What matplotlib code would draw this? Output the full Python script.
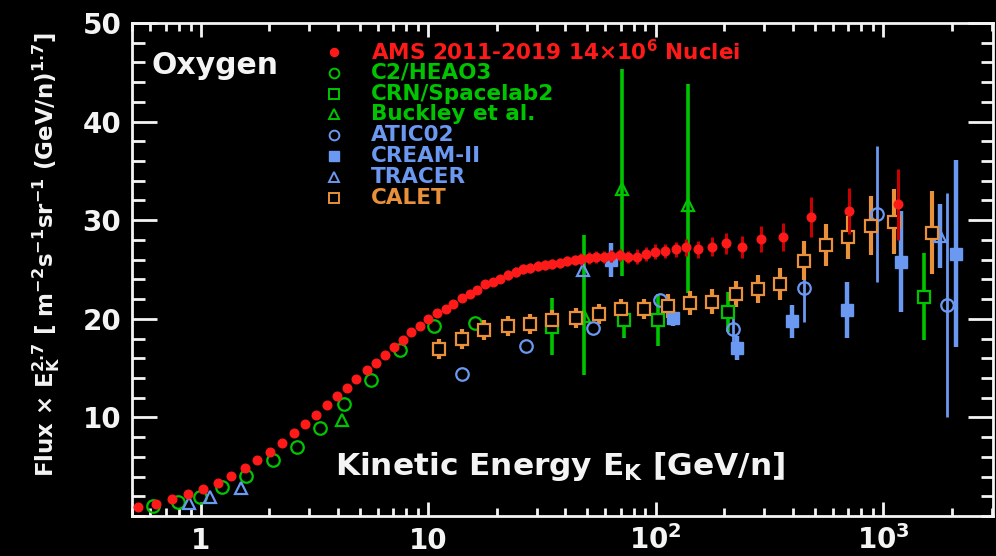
"""
Oxygen flux x E^2.7 vs kinetic energy per nucleon: AMS compared with
earlier balloon / satellite measurements.
"""

import matplotlib.pyplot as plt
from matplotlib.ticker import FixedLocator, FixedFormatter, LogLocator, MultipleLocator, NullFormatter

# ---- data (E_K in GeV/n, flux x E^2.7) ----
ams_e = [0.53, 0.636, 0.747, 0.879, 1.02, 1.19, 1.36, 1.56, 1.77, 2.01,
         2.28, 2.56, 2.87, 3.21, 3.58, 3.96, 4.41, 4.83, 5.37, 5.88,
         6.47, 7.03, 7.71, 8.42, 9.19, 10.0, 10.9, 11.9, 12.9, 14.0,
         15.2, 16.4, 17.8, 19.2, 20.7, 22.4, 24.2, 26.0, 28.1, 30.3,
         32.7, 35.1, 37.8, 40.7, 44.0, 47.1, 50.8, 54.8, 59.0, 63.8,
         69.4, 75.5, 82.7, 90.4, 99.0, 109.5, 122.5, 136.0, 153.6, 176.0,
         202.8, 238.5, 289.2, 361.5, 480.3, 710.5, 1161.0]
ams_flux = [0.94, 1.21, 1.72, 2.19, 2.73, 3.30, 4.01, 4.82, 5.69, 6.49,
            7.40, 8.38, 9.32, 10.27, 11.21, 12.15, 13.03, 13.91, 14.78, 15.53,
            16.29, 17.14, 17.88, 18.69, 19.22, 19.97, 20.58, 21.04, 21.52, 22.09,
            22.53, 22.93, 23.51, 23.74, 24.01, 24.44, 24.78, 25.02, 25.12, 25.35,
            25.45, 25.53, 25.69, 25.89, 25.96, 26.03, 26.13, 26.23, 26.29, 26.36,
            26.46, 26.29, 26.29, 26.57, 26.80, 26.87, 27.04, 27.24, 27.04, 27.30,
            27.65, 27.30, 28.11, 28.31, 30.33, 30.94, 31.62]
ams_err = [0.15] * 25 + [0.3] * 10 + [0.5] * 10 + [0.6] * 7 + [0.75] * 5 + \
          [0.9, 0.9, 0.95, 1.1, 1.1, 1.3, 1.4, 2.0, 2.35, 3.6]

c2_e = [0.615, 0.794, 0.99, 1.24, 1.58, 2.08, 2.64, 3.33, 4.24, 5.58,
        7.50, 10.55, 16.06]
c2_flux = [1.04, 1.38, 1.89, 2.90, 4.01, 5.69, 6.97, 8.89, 11.38, 13.84,
           16.87, 19.29, 19.57]

crn_e = [35.1, 72.3, 102.4, 208.2, 1516.0]
crn_flux = [19.2, 19.9, 19.9, 20.7, 22.25]
crn_err = [2.9, 1.8, 2.65, 2.0, 4.45]

buckley_e = [4.19, 48.2, 71.4, 138.8]
buckley_flux = [9.73, 20.3, 33.2, 31.5]
buckley_err_lo = [0.0, 6.0, 8.9, 8.9]
buckley_err_hi = [0.0, 8.2, 12.1, 12.3]

atic_e = [14.1, 26.9, 52.9, 104.0, 219.0, 448.7, 944.0, 1909.0]
atic_flux = [14.44, 17.27, 19.06, 21.9, 18.96, 23.16, 30.6, 21.4]
atic_err = [0.0, 0.0, 0.0, 0.0, 2.0, 3.5, 6.9, 11.4]

cream_e = [63.8, 119.2, 226.7, 398.6, 696.0, 1200.0, 2097.0]
cream_flux = [25.96, 20.07, 17.04, 19.73, 20.9, 25.8, 26.6]
cream_err = [1.7, 0.8, 1.2, 1.7, 2.8, 5.1, 9.5]

tracer_e = [0.885, 1.095, 1.496, 47.8, 1783.0]
tracer_flux = [1.31, 1.89, 2.80, 24.95, 28.4]
tracer_err = [0.0, 0.0, 0.0, 0.0, 3.2]

calet_e = [11.18, 14.02, 17.52, 22.36, 28.05, 34.93, 44.43, 56.09, 70.6, 88.5,
           113.3, 141.2, 176.0, 225.1, 280.5, 351.8, 448.7, 560.9, 703.3, 885.1,
           1118.0, 1639.0]
calet_flux = [16.94, 17.95, 18.89, 19.29, 19.49, 19.90, 20.07, 20.51, 20.98, 20.98,
              21.31, 21.59, 21.75, 22.53, 23.00, 23.54, 25.89, 27.47, 28.25, 29.42,
              29.83, 28.72]
calet_err = [1.0] * 10 + [1.2, 1.2, 1.3, 1.3, 1.4, 1.6, 2.0, 2.1, 2.2, 3.0, 3.3, 4.2]

legend_labels = ["AMS 2011-2019 14$\\times$10$^6$ Nuclei", "C2/HEAO3", "CRN/Spacelab2",
                 "Buckley et al.", "ATIC02", "CREAM-II", "TRACER", "CALET"]

RED = "#ff1a1a"
DARK_RED = "#c80000"
GREEN = "#00c400"
BLUE = "#6b98f0"
ORANGE = "#e8913a"
WHITE = "#f4f4f4"

plt.rcParams["font.family"] = "DejaVu Sans"
plt.rcParams["font.weight"] = "bold"
plt.rcParams["mathtext.fontset"] = "custom"
plt.rcParams["mathtext.rm"] = "DejaVu Sans:bold"
plt.rcParams["mathtext.it"] = "DejaVu Sans:bold"
plt.rcParams["mathtext.bf"] = "DejaVu Sans:bold"
plt.rcParams["mathtext.default"] = "rm"


def plot_oxygen():
    fig = plt.figure(figsize=(9.96, 5.56), dpi=100, facecolor="black")
    ax = fig.add_axes([0.133, 0.072, 0.8643, 0.8866])
    ax.set_facecolor("black")
    ax.set_xscale("log")
    ax.set_xlim(0.5, 3050)
    ax.set_ylim(0, 50)

    eb = dict(ls="none", capsize=0, elinewidth=2.6)

    # other experiments
    ax.plot(c2_e, c2_flux, ls="none", marker="o", ms=9, mfc="none", mec=GREEN, mew=1.6)
    ax.errorbar(crn_e, crn_flux, yerr=crn_err, marker="s", ms=9, mfc="black",
                mec=GREEN, mew=1.6, ecolor=GREEN, **eb)
    ax.errorbar(buckley_e, buckley_flux, yerr=[buckley_err_lo, buckley_err_hi],
                marker="^", ms=9, mfc="none", mec=GREEN, mew=1.6, ecolor=GREEN, **eb)
    ax.errorbar(atic_e, atic_flux, yerr=atic_err, marker="o", ms=9, mfc="none",
                mec=BLUE, mew=1.6, ecolor=BLUE, ls="none", capsize=0, elinewidth=2.0)
    ax.errorbar(cream_e, cream_flux, yerr=cream_err, marker="s", ms=8, mfc=BLUE,
                mec=BLUE, ecolor=BLUE, ls="none", capsize=0, elinewidth=3.2)
    ax.errorbar(tracer_e, tracer_flux, yerr=tracer_err, marker="^", ms=9, mfc="none",
                mec=BLUE, mew=1.6, ecolor=BLUE, ls="none", capsize=0, elinewidth=3.2)
    ax.errorbar(calet_e, calet_flux, yerr=calet_err, marker="s", ms=9, mfc="black",
                mec=ORANGE, mew=1.6, ecolor=ORANGE, ls="none", capsize=0, elinewidth=3.0)

    # AMS on top
    ax.errorbar(ams_e, ams_flux, yerr=ams_err, marker="o", ms=6.2, mfc=RED, mec=RED,
                ecolor=DARK_RED, ls="none", capsize=0, elinewidth=2.2, zorder=5)

    # axes styling
    for sp in ax.spines.values():
        sp.set_color(WHITE)
        sp.set_linewidth(2.0)
    ax.yaxis.set_major_locator(FixedLocator([10, 20, 30, 40, 50]))
    ax.yaxis.set_minor_locator(MultipleLocator(2))
    ax.xaxis.set_major_locator(FixedLocator([1, 10, 100, 1000]))
    ax.xaxis.set_major_formatter(FixedFormatter(["1", "10", "10$^2$", "10$^3$"]))
    ax.xaxis.set_minor_locator(LogLocator(base=10, subs=range(2, 10), numticks=20))
    ax.xaxis.set_minor_formatter(NullFormatter())
    ax.tick_params(which="both", direction="in", top=True, right=True,
                   colors=WHITE, width=2.0, labelsize=20)
    ax.tick_params(axis="y", which="major", length=18, pad=8)
    ax.tick_params(axis="y", which="minor", length=9)
    ax.tick_params(axis="x", which="major", length=10, pad=23.5)
    ax.tick_params(axis="x", which="minor", length=5.5)
    for lab in ax.get_xticklabels():
        lab.set_verticalalignment("baseline")

    ax.text(-0.1, 0.53,
            "Flux $\\times$ E$_K^{2.7}$ [ m$^{-2}$s$^{-1}$sr$^{-1}$ (GeV/n)$^{1.7}$]",
            rotation=90, ha="center", va="center", color=WHITE, fontsize=16.5,
            transform=ax.transAxes)
    ax.text(0.497, 0.101, "Kinetic Energy E$_K$ [GeV/n]", ha="center", va="center",
            color=WHITE, fontsize=22.5, transform=ax.transAxes)
    ax.text(0.022, 0.913, "Oxygen", ha="left", va="center", color=WHITE,
            fontsize=21.5, transform=ax.transAxes)

    # legend, drawn row by row
    styles = [
        dict(marker="o", ms=5.8, mfc=RED, mec=RED),
        dict(marker="o", ms=7, mfc="none", mec=GREEN, mew=1.4),
        dict(marker="s", ms=7, mfc="none", mec=GREEN, mew=1.4),
        dict(marker="^", ms=7, mfc="none", mec=GREEN, mew=1.4),
        dict(marker="o", ms=7, mfc="none", mec=BLUE, mew=1.4),
        dict(marker="s", ms=7, mfc=BLUE, mec=BLUE),
        dict(marker="^", ms=7, mfc="none", mec=BLUE, mew=1.4),
        dict(marker="s", ms=7, mfc="none", mec=ORANGE, mew=1.4),
    ]
    colors = [RED, GREEN, GREEN, GREEN, BLUE, BLUE, BLUE, ORANGE]
    for i, (label, st, col) in enumerate(zip(legend_labels, styles, colors)):
        y = 0.9414 - i * 0.0422
        ax.plot([0.2336], [y], transform=ax.transAxes, clip_on=False, ls="none", **st)
        ax.text(0.277, y, label, color=col, fontsize=15.5, ha="left", va="center",
                transform=ax.transAxes)

    fig.savefig("out.png", dpi=100, facecolor="black")
    plt.close(fig)


def main():
    plot_oxygen()


if __name__ == "__main__":
    main()
